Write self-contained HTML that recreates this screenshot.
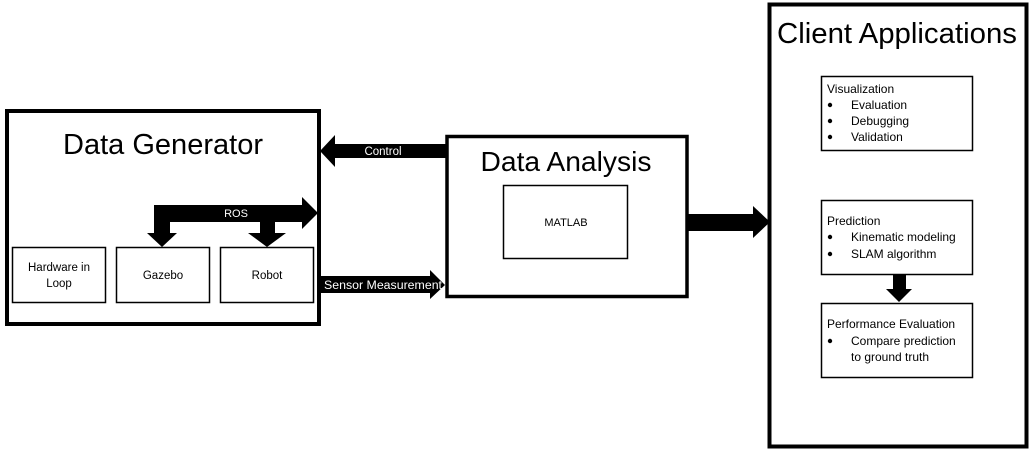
<!DOCTYPE html>
<html><head><style>
html,body{margin:0;padding:0;background:#fff;}
svg{display:block;font-family:"Liberation Sans",sans-serif;}
</style></head><body>
<svg width="1035" height="456" viewBox="0 0 1035 456" xmlns="http://www.w3.org/2000/svg">
<rect width="1035" height="456" fill="#fff"/>
<!-- Data Generator -->
<rect x="7" y="111" width="312" height="213" fill="none" stroke="#000" stroke-width="4"/>
<text x="163" y="154" font-size="29" text-anchor="middle" textLength="200" lengthAdjust="spacingAndGlyphs">Data Generator</text>
<rect x="12.5" y="247.5" width="93" height="55" fill="none" stroke="#000" stroke-width="1.5"/>
<text x="59" y="271" font-size="11.5" text-anchor="middle">Hardware in</text>
<text x="59" y="287" font-size="11.5" text-anchor="middle">Loop</text>
<rect x="116.5" y="247.5" width="93" height="55" fill="none" stroke="#000" stroke-width="1.5"/>
<text x="163" y="279" font-size="11.5" text-anchor="middle">Gazebo</text>
<rect x="220.5" y="247.5" width="93" height="55" fill="none" stroke="#000" stroke-width="1.5"/>
<text x="267" y="279" font-size="11.5" text-anchor="middle">Robot</text>
<!-- ROS arrow -->
<polygon points="154,205 302,205 302,197 318,213 302,229 302,222 275,222 275,233 286,233 267,247 248,233 260,233 260,222 170,222 170,233 177,233 162,247 147,233 154,233" fill="#000"/>
<text x="236" y="217" font-size="11" fill="#fff" text-anchor="middle">ROS</text>
<!-- Control arrow -->
<polygon points="446,144 335,144 335,135 320,151 335,167 335,158 446,158" fill="#000"/>
<text x="383" y="155" font-size="11.5" fill="#fff" text-anchor="middle">Control</text>
<!-- Sensor arrow -->
<polygon points="321,276 430,276 430,270 445,285 430,299 430,293 321,293" fill="#000"/>
<text x="383" y="289" font-size="11.5" fill="#fff" text-anchor="middle" textLength="118" lengthAdjust="spacingAndGlyphs">Sensor Measurement</text>
<!-- Data Analysis -->
<rect x="447" y="136.5" width="240" height="160" fill="none" stroke="#000" stroke-width="3.5"/>
<text x="566" y="171" font-size="28" text-anchor="middle" textLength="171" lengthAdjust="spacingAndGlyphs">Data Analysis</text>
<rect x="503.5" y="185.5" width="124" height="73" fill="none" stroke="#000" stroke-width="1.5"/>
<text x="566" y="226" font-size="11" text-anchor="middle">MATLAB</text>
<!-- big arrow -->
<polygon points="686,214 753,214 753,206 770,222 753,238 753,231 686,231" fill="#000"/>
<!-- Client Applications -->
<rect x="769.5" y="4.5" width="257" height="442" fill="none" stroke="#000" stroke-width="4"/>
<text x="897" y="43" font-size="29" text-anchor="middle" textLength="240" lengthAdjust="spacingAndGlyphs">Client Applications</text>
<g font-size="12">
<rect x="821.5" y="76.5" width="151" height="74" fill="none" stroke="#000" stroke-width="1.5"/>
<text x="827" y="93">Visualization</text>
<circle cx="830" cy="105" r="2.2"/><text x="851" y="109">Evaluation</text>
<circle cx="830" cy="121" r="2.2"/><text x="851" y="125">Debugging</text>
<circle cx="830" cy="137" r="2.2"/><text x="851" y="141">Validation</text>
<rect x="821.5" y="200.5" width="151" height="74" fill="none" stroke="#000" stroke-width="1.5"/>
<text x="827" y="225">Prediction</text>
<circle cx="830" cy="237" r="2.2"/><text x="851" y="241">Kinematic modeling</text>
<circle cx="830" cy="254" r="2.2"/><text x="851" y="258">SLAM algorithm</text>
<polygon points="893,275 906,275 906,289 912,289 899,302 886,289 893,289" fill="#000"/>
<rect x="821.5" y="303.5" width="151" height="74" fill="none" stroke="#000" stroke-width="1.5"/>
<text x="827" y="328">Performance Evaluation</text>
<circle cx="830" cy="341" r="2.2"/><text x="851" y="345">Compare prediction</text>
<text x="851" y="361">to ground truth</text>
</g>
</svg>
</body></html>
